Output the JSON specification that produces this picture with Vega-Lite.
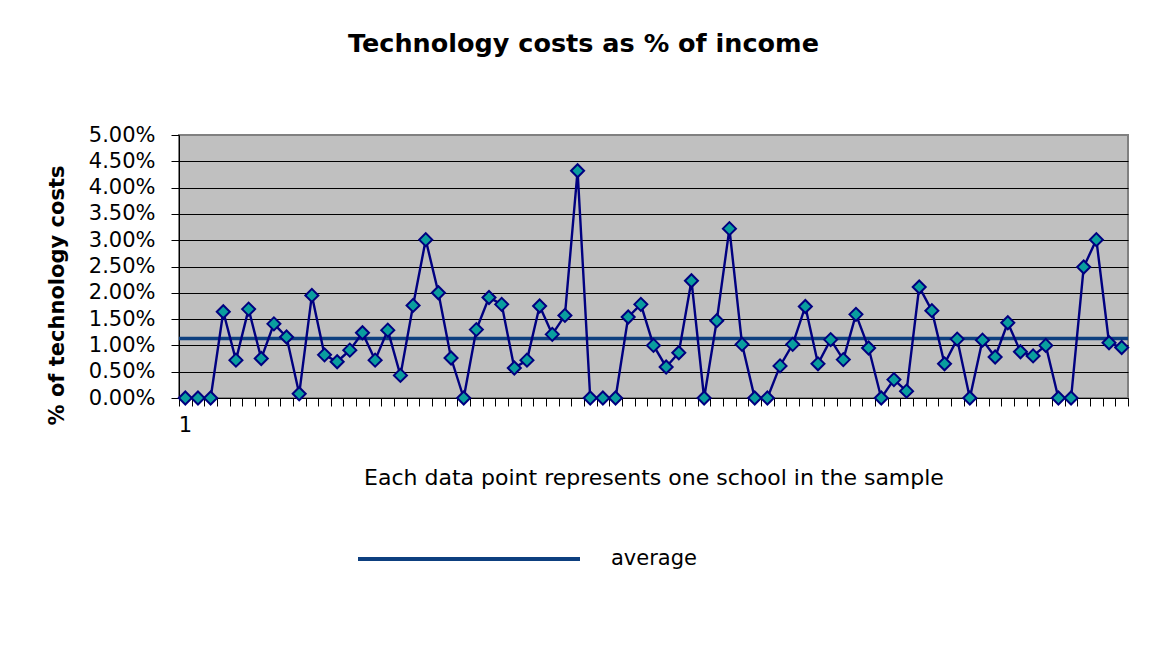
{
  "$schema": "https://vega.github.io/schema/vega-lite/v6.json",
  "autosize": "none",
  "width": 949,
  "height": 263,
  "padding": {"left": 179, "top": 135, "right": 27, "bottom": 262},
  "background": "white",
  "config": {
    "font": "DejaVu Sans",
    "view": {"fill": "#c0c0c0", "stroke": "#808080", "strokeWidth": 2},
    "axis": {"labelColor": "black", "titleColor": "black", "domainColor": "black", "tickColor": "black"}
  },
  "title": {
    "text": "Technology costs as % of income",
    "font": "DejaVu Sans",
    "fontSize": 25.5,
    "fontWeight": "bold",
    "color": "black",
    "anchor": "middle",
    "dx": -70,
    "baseline": "alphabetic",
    "offset": 47
  },
  "datasets": {
    "schools": [
      {"school": 1, "cost": 0.0}, {"school": 2, "cost": 0.0}, {"school": 3, "cost": 0.0},
      {"school": 4, "cost": 0.0164}, {"school": 5, "cost": 0.0072}, {"school": 6, "cost": 0.0169},
      {"school": 7, "cost": 0.0075}, {"school": 8, "cost": 0.0141}, {"school": 9, "cost": 0.0116},
      {"school": 10, "cost": 0.0008}, {"school": 11, "cost": 0.0195}, {"school": 12, "cost": 0.0082},
      {"school": 13, "cost": 0.0069}, {"school": 14, "cost": 0.0091}, {"school": 15, "cost": 0.0124},
      {"school": 16, "cost": 0.0072}, {"school": 17, "cost": 0.0129}, {"school": 18, "cost": 0.0043},
      {"school": 19, "cost": 0.0176}, {"school": 20, "cost": 0.0301}, {"school": 21, "cost": 0.02},
      {"school": 22, "cost": 0.0076}, {"school": 23, "cost": 0.0}, {"school": 24, "cost": 0.013},
      {"school": 25, "cost": 0.0191}, {"school": 26, "cost": 0.0178}, {"school": 27, "cost": 0.0057},
      {"school": 28, "cost": 0.0072}, {"school": 29, "cost": 0.0175}, {"school": 30, "cost": 0.0121},
      {"school": 31, "cost": 0.0157}, {"school": 32, "cost": 0.0432}, {"school": 33, "cost": 0.0},
      {"school": 34, "cost": 0.0}, {"school": 35, "cost": 0.0}, {"school": 36, "cost": 0.0154},
      {"school": 37, "cost": 0.0178}, {"school": 38, "cost": 0.01}, {"school": 39, "cost": 0.0059},
      {"school": 40, "cost": 0.0086}, {"school": 41, "cost": 0.0223}, {"school": 42, "cost": 0.0},
      {"school": 43, "cost": 0.0147}, {"school": 44, "cost": 0.0322}, {"school": 45, "cost": 0.0102},
      {"school": 46, "cost": 0.0}, {"school": 47, "cost": 0.0}, {"school": 48, "cost": 0.0061},
      {"school": 49, "cost": 0.0102}, {"school": 50, "cost": 0.0174}, {"school": 51, "cost": 0.0065},
      {"school": 52, "cost": 0.0111}, {"school": 53, "cost": 0.0073}, {"school": 54, "cost": 0.0159},
      {"school": 55, "cost": 0.0095}, {"school": 56, "cost": 0.0}, {"school": 57, "cost": 0.0035},
      {"school": 58, "cost": 0.0013}, {"school": 59, "cost": 0.0211}, {"school": 60, "cost": 0.0166},
      {"school": 61, "cost": 0.0065}, {"school": 62, "cost": 0.0112}, {"school": 63, "cost": 0.0},
      {"school": 64, "cost": 0.011}, {"school": 65, "cost": 0.0078}, {"school": 66, "cost": 0.0143},
      {"school": 67, "cost": 0.0088}, {"school": 68, "cost": 0.008}, {"school": 69, "cost": 0.01},
      {"school": 70, "cost": 0.0}, {"school": 71, "cost": 0.0}, {"school": 72, "cost": 0.0249},
      {"school": 73, "cost": 0.0301}, {"school": 74, "cost": 0.0105}, {"school": 75, "cost": 0.0096}
    ],
    "average": [{"series": "average", "cost": 0.0113}]
  },
  "layer": [
    {
      "data": {"name": "average"},
      "mark": {"type": "rule", "strokeWidth": 3.5},
      "encoding": {
        "y": {
          "field": "cost",
          "type": "quantitative",
          "scale": {"domain": [0, 0.05], "nice": false},
          "axis": {
            "values": [0, 0.005, 0.01, 0.015, 0.02, 0.025, 0.03, 0.035, 0.04, 0.045, 0.05],
            "format": ".2%",
            "labelFontSize": 21,
            "labelOverlap": false,
            "labelFlush": false,
            "labelPadding": 16,
            "tickSize": 8,
            "grid": true,
            "gridColor": "black",
            "gridWidth": 1,
            "gridOpacity": {"condition": {"test": "datum.value >= 0.05", "value": 0}, "value": 1},
            "title": "% of technology costs",
            "titleFontSize": 21,
            "titleFontWeight": "bold",
            "titleAngle": -90,
            "titleAlign": "center",
            "titleBaseline": "middle",
            "titleX": -122,
            "titleY": 160
          }
        },
        "color": {
          "field": "series",
          "type": "nominal",
          "scale": {"domain": ["average"], "range": ["#0d3f7f"]},
          "legend": {
            "orient": "none",
            "legendX": 177,
            "legendY": 311,
            "title": null,
            "symbolType": "stroke",
            "symbolSize": 49284,
            "symbolStrokeWidth": 4,
            "labelFontSize": 21,
            "labelColor": "black",
            "labelOffset": 29
          }
        }
      }
    },
    {
      "data": {"name": "schools"},
      "mark": {"type": "line", "color": "#000080", "strokeWidth": 2.4},
      "encoding": {
        "x": {
          "field": "school",
          "type": "quantitative",
          "scale": {"domain": [0.5, 75.5], "nice": false, "zero": false},
          "axis": {
            "values": [0.5, 1.5, 2.5, 3.5, 4.5, 5.5, 6.5, 7.5, 8.5, 9.5, 10.5, 11.5, 12.5, 13.5, 14.5, 15.5, 16.5, 17.5, 18.5, 19.5, 20.5, 21.5, 22.5, 23.5, 24.5, 25.5, 26.5, 27.5, 28.5, 29.5, 30.5, 31.5, 32.5, 33.5, 34.5, 35.5, 36.5, 37.5, 38.5, 39.5, 40.5, 41.5, 42.5, 43.5, 44.5, 45.5, 46.5, 47.5, 48.5, 49.5, 50.5, 51.5, 52.5, 53.5, 54.5, 55.5, 56.5, 57.5, 58.5, 59.5, 60.5, 61.5, 62.5, 63.5, 64.5, 65.5, 66.5, 67.5, 68.5, 69.5, 70.5, 71.5, 72.5, 73.5, 74.5, 75.5],
            "labelExpr": "datum.value == 0.5 ? '1' : ''",
            "labelOffset": 6,
            "labelOverlap": false,
            "labelFlush": false,
            "labelFontSize": 21,
            "labelBaseline": "top",
            "labelPadding": 8,
            "tickSize": 8,
            "tickWidth": 1,
            "grid": false,
            "title": "Each data point represents one school in the sample",
            "titleFontSize": 22,
            "titleFontWeight": "normal",
            "titleBaseline": "alphabetic",
            "titleY": 86
          }
        },
        "y": {
          "field": "cost",
          "type": "quantitative",
          "scale": {"domain": [0, 0.05], "nice": false},
          "axis": {
            "values": [0, 0.005, 0.01, 0.015, 0.02, 0.025, 0.03, 0.035, 0.04, 0.045, 0.05],
            "format": ".2%",
            "labelFontSize": 21,
            "labelOverlap": false,
            "labelFlush": false,
            "labelPadding": 16,
            "tickSize": 8,
            "grid": true,
            "gridColor": "black",
            "gridWidth": 1,
            "gridOpacity": {"condition": {"test": "datum.value >= 0.05", "value": 0}, "value": 1},
            "title": "% of technology costs",
            "titleFontSize": 21,
            "titleFontWeight": "bold",
            "titleAngle": -90,
            "titleAlign": "center",
            "titleBaseline": "middle",
            "titleX": -122,
            "titleY": 160
          }
        }
      }
    },
    {
      "data": {"name": "schools"},
      "mark": {"type": "point", "shape": "diamond", "filled": true, "fill": "#0a9e9e", "stroke": "#000080", "strokeWidth": 2, "size": 170, "opacity": 1},
      "encoding": {
        "x": {
          "field": "school",
          "type": "quantitative",
          "scale": {"domain": [0.5, 75.5], "nice": false, "zero": false},
          "axis": {
            "values": [0.5, 1.5, 2.5, 3.5, 4.5, 5.5, 6.5, 7.5, 8.5, 9.5, 10.5, 11.5, 12.5, 13.5, 14.5, 15.5, 16.5, 17.5, 18.5, 19.5, 20.5, 21.5, 22.5, 23.5, 24.5, 25.5, 26.5, 27.5, 28.5, 29.5, 30.5, 31.5, 32.5, 33.5, 34.5, 35.5, 36.5, 37.5, 38.5, 39.5, 40.5, 41.5, 42.5, 43.5, 44.5, 45.5, 46.5, 47.5, 48.5, 49.5, 50.5, 51.5, 52.5, 53.5, 54.5, 55.5, 56.5, 57.5, 58.5, 59.5, 60.5, 61.5, 62.5, 63.5, 64.5, 65.5, 66.5, 67.5, 68.5, 69.5, 70.5, 71.5, 72.5, 73.5, 74.5, 75.5],
            "labelExpr": "datum.value == 0.5 ? '1' : ''",
            "labelOffset": 6,
            "labelOverlap": false,
            "labelFlush": false,
            "labelFontSize": 21,
            "labelBaseline": "top",
            "labelPadding": 8,
            "tickSize": 8,
            "tickWidth": 1,
            "grid": false,
            "title": "Each data point represents one school in the sample",
            "titleFontSize": 22,
            "titleFontWeight": "normal",
            "titleBaseline": "alphabetic",
            "titleY": 86
          }
        },
        "y": {
          "field": "cost",
          "type": "quantitative",
          "scale": {"domain": [0, 0.05], "nice": false},
          "axis": {
            "values": [0, 0.005, 0.01, 0.015, 0.02, 0.025, 0.03, 0.035, 0.04, 0.045, 0.05],
            "format": ".2%",
            "labelFontSize": 21,
            "labelOverlap": false,
            "labelFlush": false,
            "labelPadding": 16,
            "tickSize": 8,
            "grid": true,
            "gridColor": "black",
            "gridWidth": 1,
            "gridOpacity": {"condition": {"test": "datum.value >= 0.05", "value": 0}, "value": 1},
            "title": "% of technology costs",
            "titleFontSize": 21,
            "titleFontWeight": "bold",
            "titleAngle": -90,
            "titleAlign": "center",
            "titleBaseline": "middle",
            "titleX": -122,
            "titleY": 160
          }
        }
      }
    }
  ]
}
